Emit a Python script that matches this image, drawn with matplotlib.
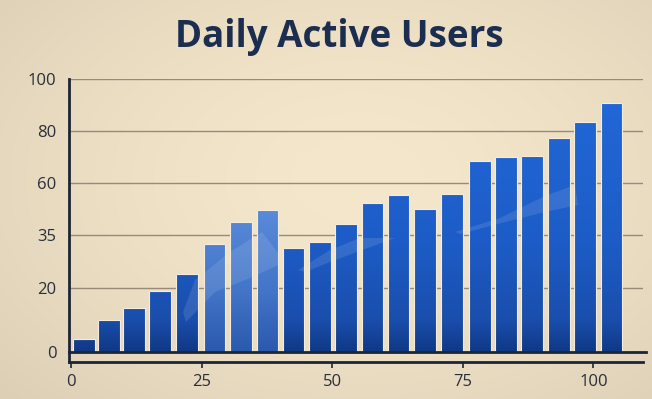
import numpy as np
import matplotlib
matplotlib.use("Agg")
import matplotlib.pyplot as plt
from matplotlib.colors import LinearSegmentedColormap
from matplotlib.patches import Polygon

# ---- data ----
title = "Daily Active Users"
x_pos = [2.5, 7.3, 12.1, 17.0, 22.2, 27.5, 32.6, 37.6, 42.6, 47.7, 52.6,
         57.7, 62.7, 67.8, 73.0, 78.3, 83.3, 88.3, 93.4, 98.4, 103.5]
values = [4.0, 10.0, 13.8, 19.1, 23.9, 32.4, 41.1, 46.9, 31.2, 32.9, 40.3,
          50.4, 54.1, 47.5, 54.7, 68.5, 69.9, 70.3, 77.2, 83.5, 90.7]
highlight = [False, False, False, False, False, True, True, True, False, False, False,
             False, False, False, False, False, False, False, False, False, False]
y_ticks = [0, 20, 35, 60, 80, 100]
x_ticks = [0, 25, 50, 75, 100]

# axis mapping: tick label values are not evenly spaced on the page
scale_vals = [-20, 0, 20, 35, 60, 80, 100, 140]
scale_pos = [-64, 0, 64, 117, 169, 221, 273, 377]

def fwd(v):
    return np.interp(v, scale_vals, scale_pos)

def inv(p):
    return np.interp(p, scale_pos, scale_vals)

W, H = 652, 399
fig = plt.figure(figsize=(W / 100, H / 100), dpi=100)

# parchment background with vignette
bg = fig.add_axes([0, 0, 1, 1], zorder=-10)
yy, xx = np.mgrid[0:1:200j, 0:1:300j]
r = np.sqrt(((xx - 0.55) / 0.75) ** 2 + ((yy - 0.45) / 0.8) ** 2)
r = np.clip(r, 0, 1)
c_in = np.array([0xf5, 0xe7, 0xcb]) / 255
c_out = np.array([0xdc, 0xcf, 0xb6]) / 255
img = c_in[None, None, :] * (1 - r[..., None] ** 1.6) + c_out[None, None, :] * (r[..., None] ** 1.6)
bg.imshow(img, extent=[0, 1, 0, 1], aspect='auto', origin='upper')
bg.set_axis_off()

AX_L, AX_R, AX_T, AX_B = 69, 643, 79, 362
ax = fig.add_axes([AX_L / W, 1 - AX_B / H, (AX_R - AX_L) / W, (AX_B - AX_T) / H])
ax.patch.set_alpha(0)
ax.set_yscale('function', functions=(fwd, inv))
ax.set_xlim(-0.38, 109.5)
ax.set_ylim(-3.125, 100)
ax.set_autoscale_on(False)

# grid lines
for t in y_ticks[1:]:
    ax.axhline(t, color='#968b7b', lw=1.0, zorder=1)
ax.axhline(0, color='#1b2538', lw=2.0, zorder=4, xmax=1.005, clip_on=False)

bars = ax.bar(x_pos, values, width=4.15, color='none', edgecolor='#f4ecdc',
              linewidth=0.8, zorder=3)

cm_reg = LinearSegmentedColormap.from_list(
    'reg', [(0, '#0f3784'), (0.12, '#1a4eac'), (0.4, '#1d5cc6'), (1, '#2269da')])
cm_hi = LinearSegmentedColormap.from_list(
    'hi', [(0, '#2a58ac'), (0.3, '#4274c8'), (0.7, '#5a8ad8'), (1, '#6592de')])
grad = np.linspace(0, 1, 256)[:, None]
for b, hi in zip(bars, highlight):
    im = ax.imshow(grad, cmap=cm_hi if hi else cm_reg, origin='lower',
                   extent=[0, 1, 0.03, 1.0 if not hi else 0.75], aspect='auto',
                   transform=ax.transAxes, zorder=2.5)
    im.set_clip_path(b)

# decorative faint swooshes over the bars (page pixels)
def to_ax(pts):
    return [((px - AX_L) / (AX_R - AX_L), (AX_B - py) / (AX_B - AX_T)) for px, py in pts]

swooshes = [
    [(183, 312), (195, 280), (230, 252), (262, 232), (285, 262), (250, 278), (215, 292), (186, 322)],
    [(298, 270), (330, 250), (360, 238), (395, 238), (365, 249), (330, 262), (305, 272)],
    [(455, 232), (500, 218), (545, 196), (575, 185), (578, 205), (545, 212), (505, 222), (460, 234)],
]
for sw in swooshes:
    for b in bars:
        p = Polygon(to_ax(sw), closed=True, transform=ax.transAxes,
                    facecolor='white', edgecolor='none', alpha=0.11, zorder=2.7)
        ax.add_patch(p)
        p.set_clip_path(b)

ax.set_xlim(-0.38, 109.5)
ax.set_ylim(-3.125, 100)

ax.set_yticks(y_ticks)
ax.set_yticklabels([str(t) for t in y_ticks])
ax.set_xticks(x_ticks)
ax.set_xticklabels([str(t) for t in x_ticks])
ax.minorticks_off()
ax.tick_params(axis='y', length=0, pad=9, labelsize=12, labelcolor='#2a2e38')
ax.tick_params(axis='x', length=4, width=1.2, color='#1b2538', pad=5,
               labelsize=12, labelcolor='#2a2e38')
for lab in ax.get_xticklabels() + ax.get_yticklabels():
    lab.set_fontfamily('Open Sans')

for s in ['top', 'right']:
    ax.spines[s].set_visible(False)
for s in ['left', 'bottom']:
    ax.spines[s].set_color('#1b2538')
    ax.spines[s].set_linewidth(2.0)

fig.text(339 / W, 1 - 47 / H, title, ha='center', va='baseline', fontsize=26.5,
         fontweight='bold', color='#1c2e50', family='Open Sans')

fig.savefig('out.png', dpi=100)
